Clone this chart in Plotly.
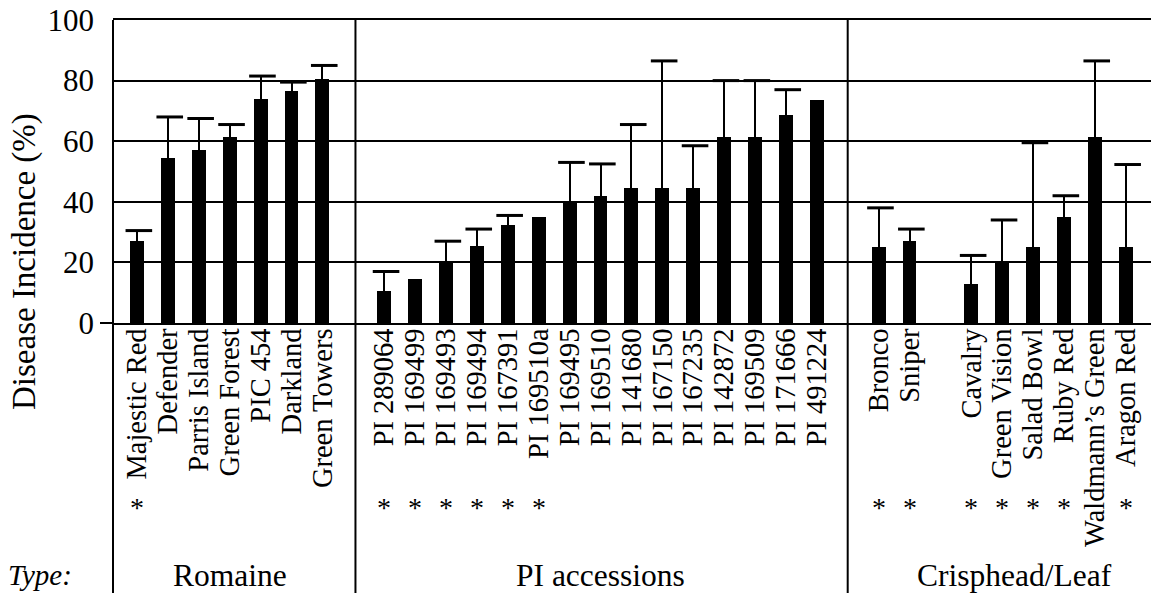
import plotly.graph_objects as go

# ---------------- data ----------------
romaine_names = ["Majestic Red", "Defender", "Parris Island", "Green Forest",
                 "PIC 454", "Darkland", "Green Towers"]
romaine_vals = [27, 54.5, 57, 61.5, 74, 76.5, 80.5]
romaine_err = [3.5, 13.5, 10.5, 4, 7.5, 3, 4.5]
romaine_sig = [True, False, False, False, False, False, False]

pi_names = ["PI 289064", "PI 169499", "PI 169493", "PI 169494", "PI 167391",
            "PI 169510a", "PI 169495", "PI 169510", "PI 141680", "PI 167150",
            "PI 167235", "PI 142872", "PI 169509", "PI 171666", "PI 491224"]
pi_vals = [10.5, 14.5, 20, 25.5, 32.5, 35, 39.5, 42, 44.5, 44.5, 44.5,
           61.5, 61.5, 68.5, 73.5]
pi_err = [6.5, None, 7, 5.5, 3, None, 13.5, 10.5, 21, 42, 14, 18.5, 18.5,
          8.5, None]
pi_sig = [True, True, True, True, True, True, False, False, False, False,
          False, False, False, False, False]

crisp_names = ["Bronco", "Sniper", "Cavalry", "Green Vision", "Salad Bowl",
               "Ruby Red", "Waldmann\u2019s Green", "Aragon Red"]
crisp_vals = [25, 27, 13, 20, 25, 35, 61.5, 25]
crisp_err = [13, 4, 9.3, 14, 34.5, 7, 25, 27.3]
crisp_sig = [True, True, True, True, True, True, False, True]

group_names = ["Romaine", "PI accessions", "Crisphead/Leaf"]
y_ticks = [0, 20, 40, 60, 80, 100]

# ---------------- layout helpers ----------------
W, H = 1151, 593
ML, MT, MB = 113, 20, 270
PLOT_W = W - ML
PLOT_H = H - MT - MB
SLOT_PX = 30.9
FIRST_PX = 137

xmin = (ML - FIRST_PX) / SLOT_PX
xmax = (W - FIRST_PX) / SLOT_PX

rom_pos = list(range(0, len(romaine_names)))
pi_start = len(romaine_names) + 1
pi_pos = [pi_start + i for i in range(len(pi_names))]
cr_start = pi_pos[-1] + 2
cr_pos = [cr_start + i + (1 if i >= 2 else 0) for i in range(len(crisp_names))]
separators = [rom_pos[-1] + 1.07, pi_pos[-1] + 1.0]
group_centers = [sum(rom_pos) / len(rom_pos), sum(pi_pos) / len(pi_pos),
                 (cr_pos[0] + cr_pos[-1]) / 2 + 0.4]

names = romaine_names + pi_names + crisp_names
vals = romaine_vals + pi_vals + crisp_vals
errs = romaine_err + pi_err + crisp_err
sig = romaine_sig + pi_sig + crisp_sig
pos = rom_pos + pi_pos + cr_pos


def px2paper_x(px):
    return (px - ML) / PLOT_W


def px2paper_y(py):
    return (MT + PLOT_H - py) / PLOT_H


def data2paper_x(x):
    return (x - xmin) / (xmax - xmin)


FONT = "Liberation Serif, Times New Roman, serif"

fig = go.Figure()

err_plus = [e if e is not None else float("nan") for e in errs]
err_minus = [0 if e is not None else float("nan") for e in errs]

fig.add_trace(go.Bar(
    x=pos, y=vals, width=0.45,
    marker=dict(color="black", line=dict(width=0)),
    error_y=dict(type="data", symmetric=False, array=err_plus,
                 arrayminus=err_minus, color="black", thickness=2, width=0),
    hoverinfo="skip", showlegend=False,
))

cap_y = [v + e if e is not None else None for v, e in zip(vals, errs)]
fig.add_trace(go.Scatter(
    x=[p + 0.06 for p in pos], y=cap_y, mode="markers",
    marker=dict(symbol="line-ew", size=19,
                line=dict(color="black", width=3)),
    hoverinfo="skip", showlegend=False, cliponaxis=False,
))

shapes = []
bottom = px2paper_y(H)
shapes.append(dict(type="line", xref="paper", yref="paper", x0=0, x1=0,
                   y0=1, y1=bottom, line=dict(color="black", width=2)))
for s in separators:
    xp = data2paper_x(s)
    shapes.append(dict(type="line", xref="paper", yref="paper", x0=xp, x1=xp,
                       y0=1, y1=bottom, line=dict(color="black", width=2)))
shapes.append(dict(type="line", xref="paper", yref="paper",
                   x0=px2paper_x(100), x1=0, y0=0, y1=0,
                   line=dict(color="black", width=2)))

annotations = []
annotations.append(dict(text="Disease Incidence (%)", xref="paper", yref="paper",
                        x=px2paper_x(24), y=px2paper_y(262), textangle=-90,
                        showarrow=False, xanchor="center", yanchor="middle",
                        font=dict(family=FONT, size=33, color="black")))
annotations.append(dict(text="<i>Type:</i>", xref="paper", yref="paper",
                        x=px2paper_x(40), y=px2paper_y(575), showarrow=False,
                        xanchor="center", yanchor="middle",
                        font=dict(family=FONT, size=29, color="black")))
for g, c in zip(group_names, group_centers):
    annotations.append(dict(text=g, xref="x", yref="paper", x=c,
                            y=px2paper_y(575), showarrow=False,
                            xanchor="center", yanchor="middle",
                            font=dict(family=FONT, size=31.5, color="black")))
for p, s in zip(pos, sig):
    if s:
        annotations.append(dict(text="*", xref="x", yref="paper", x=p,
                                y=px2paper_y(507), showarrow=False,
                                xanchor="center", yanchor="middle",
                                font=dict(family=FONT, size=28, color="black")))

fig.update_layout(
    width=W, height=H,
    margin=dict(l=ML, r=0, t=MT, b=MB, pad=0),
    paper_bgcolor="white", plot_bgcolor="white",
    font=dict(family=FONT, color="black"),
    bargap=0,
    shapes=shapes, annotations=annotations,
    xaxis=dict(range=[xmin, xmax], tickvals=pos, ticktext=names,
               tickangle=-90, ticks="", showgrid=False, zeroline=False,
               showline=True, mirror=True, linecolor="black", linewidth=2,
               tickfont=dict(family=FONT, size=28.5, color="black"),
               ticklabelstandoff=-8,
               automargin=False, fixedrange=True),
    yaxis=dict(range=[0, 100], tickvals=y_ticks, ticks="",
               showgrid=True, gridcolor="black", gridwidth=2,
               zeroline=False, showline=False,
               tickfont=dict(family=FONT, size=31, color="black"),
               ticklabelstandoff=18, automargin=False, fixedrange=True),
)

fig.write_html("out.html",
               config={"displayModeBar": False},
               post_script="document.body.style.margin='0';"
                           "document.body.style.padding='0';")
